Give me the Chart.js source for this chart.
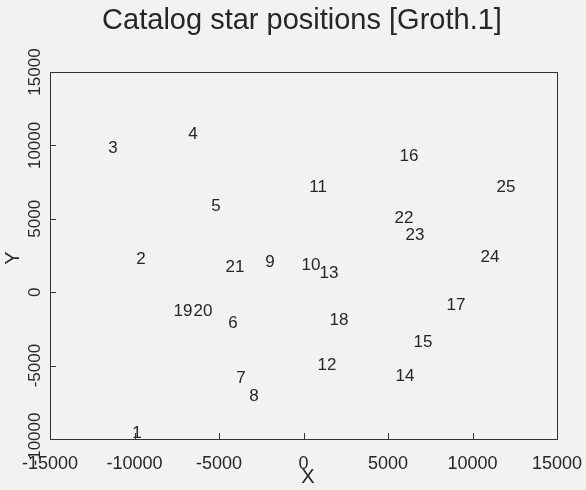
<!DOCTYPE html>
<html>
<head>
<meta charset="utf-8">
<title>Catalog star positions</title>
<script src="https://cdn.jsdelivr.net/npm/chart.js@4.4.1/dist/chart.umd.min.js"></script>
<style>
  html, body { margin: 0; padding: 0; background: #f2f2f0; }
  canvas { display: block; }
</style>
</head>
<body>
<canvas id="starChart" width="586" height="490"></canvas>
<script>
// ===== Data =====
const starIds = ["1", "2", "3", "4", "5", "6", "7", "8", "9", "10", "11", "12", "13",
                 "14", "15", "16", "17", "18", "19", "20", "21", "22", "23", "24", "25"];
const starX = [-9850, -9620, -11270, -6540, -5180, -4170, -3700, -2930, -1980, 440, 860, 1390, 1510,
               6010, 7070, 6240, 9020, 2100, -7130, -5950, -4050, 5950, 6600, 11040, 11980];
const starY = [-9600, 2270, 9820, 10780, 5870, -2100, -5840, -7070, 2060, 1850, 7170, -4970, 1310,
               -5740, -3410, 9280, -870, -1900, -1280, -1280, 1720, 5050, 3900, 2400, 7170];
const xTicks = [-15000, -10000, -5000, 0, 5000, 10000, 15000];
const yTicks = [-10000, -5000, 0, 5000, 10000, 15000];

const INK = "#262626";
const FONT = "'Liberation Sans', Arial, Helvetica, sans-serif";

// ===== Plot decorations: box, inward ticks, titles, star labels =====
const plotDecor = {
  id: "plotDecor",
  beforeDraw(chart) {
    const ctx = chart.ctx;
    ctx.save();
    ctx.fillStyle = "#f2f2f0";
    ctx.fillRect(0, 0, chart.width, chart.height);
    ctx.restore();
  },
  afterDraw(chart) {
    const { ctx, chartArea: a, scales } = chart;
    ctx.save();
    ctx.strokeStyle = "#333";
    ctx.lineWidth = 1;
    ctx.strokeRect(a.left + 0.5, a.top + 0.5, a.right - a.left, a.bottom - a.top);

    // ticks pointing in
    ctx.beginPath();
    xTicks.forEach((v) => {
      const px = Math.round(scales.x.getPixelForValue(v)) + 0.5;
      ctx.moveTo(px, a.bottom);
      ctx.lineTo(px, a.bottom - 6);
    });
    yTicks.forEach((v) => {
      const py = Math.round(scales.y.getPixelForValue(v)) + 0.5;
      ctx.moveTo(a.left, py);
      ctx.lineTo(a.left + 6, py);
    });
    ctx.stroke();

    ctx.fillStyle = INK;
    ctx.textAlign = "center";
    ctx.textBaseline = "middle";

    // y tick labels, rotated
    ctx.font = "17px " + FONT;
    yTicks.forEach((v) => {
      const py = scales.y.getPixelForValue(v);
      ctx.save();
      ctx.translate(35, py);
      ctx.rotate(-Math.PI / 2);
      ctx.fillText(String(v), 0, 0);
      ctx.restore();
    });

    // axis titles
    ctx.font = "20px " + FONT;
    ctx.fillText("X", 308, 477);
    ctx.save();
    ctx.translate(13, 258);
    ctx.rotate(-Math.PI / 2);
    ctx.fillText("Y", 0, 0);
    ctx.restore();

    // main title
    ctx.font = "29px " + FONT;
    ctx.textBaseline = "alphabetic";
    ctx.fillText("Catalog star positions [Groth.1]", 302, 29);

    // star number labels at their positions
    ctx.font = "17px " + FONT;
    ctx.textBaseline = "middle";
    chart.getDatasetMeta(0).data.forEach((pt, i) => {
      ctx.fillText(starIds[i], pt.x, pt.y);
    });
    ctx.restore();
  }
};

// ===== Chart =====
const points = starX.map((x, i) => ({ x: x, y: starY[i] }));

new Chart(document.getElementById("starChart"), {
  type: "scatter",
  data: {
    datasets: [{ label: "Stars", data: points, pointRadius: 0, pointHoverRadius: 0 }]
  },
  options: {
    responsive: false,
    animation: false,
    layout: { padding: { top: 72, right: 29, bottom: 0, left: 0 } },
    plugins: { legend: { display: false }, tooltip: { enabled: false } },
    scales: {
      x: {
        type: "linear",
        min: -15000,
        max: 15000,
        afterBuildTicks: (s) => { s.ticks = xTicks.map((v) => ({ value: v })); },
        afterFit: (s) => { s.height = 51; s.paddingLeft = 0; s.paddingRight = 0; },
        grid: { display: false, drawTicks: false },
        border: { display: false },
        ticks: {
          autoSkip: false,
          maxRotation: 0,
          padding: 14,
          color: INK,
          font: { family: FONT, size: 18 },
          callback: (v) => String(v)
        }
      },
      y: {
        type: "linear",
        min: -10000,
        max: 15000,
        afterBuildTicks: (s) => { s.ticks = yTicks.map((v) => ({ value: v })); },
        afterFit: (s) => { s.width = 50; },
        grid: { display: false, drawTicks: false },
        border: { display: false },
        ticks: { display: false }
      }
    }
  },
  plugins: [plotDecor]
});
</script>
</body>
</html>
